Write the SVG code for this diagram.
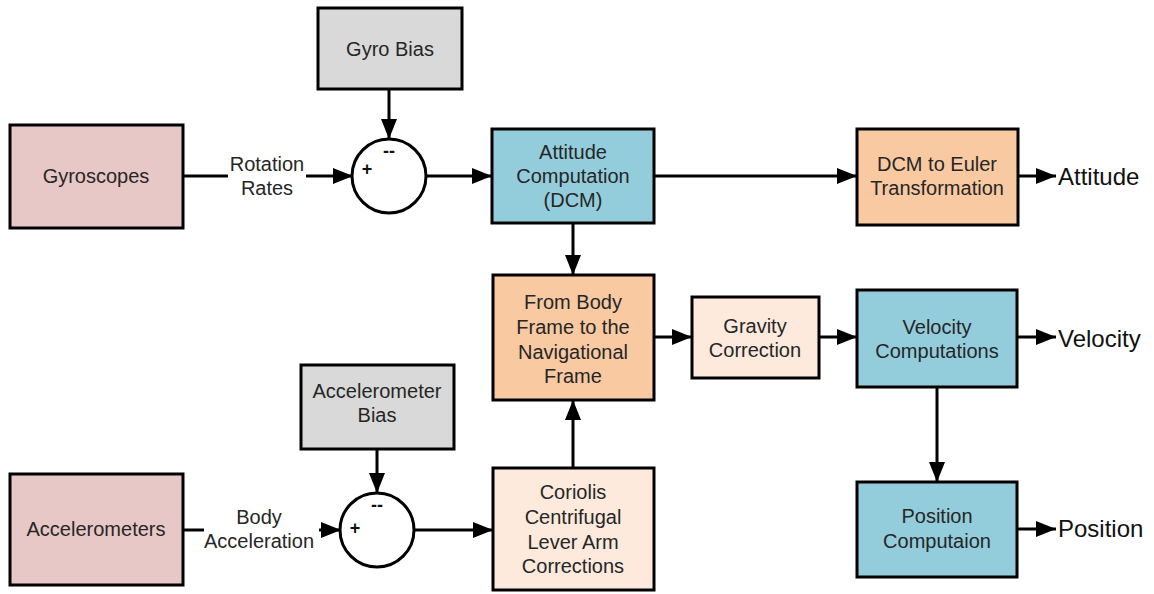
<svg xmlns="http://www.w3.org/2000/svg" width="1154" height="594" viewBox="0 0 1154 594">
  <style>
    .box { stroke: #000; stroke-width: 3; }
    .pink { fill: #e8c8c6; }
    .gray { fill: #d9d9d9; }
    .blue { fill: #93cddb; }
    .orange { fill: #f9c9a2; }
    .cream { fill: #fdeadd; }
    .sum { fill: #fff; stroke: #000; stroke-width: 3; }
    .lbl { font-family: "Liberation Sans", Arial, sans-serif; font-size: 20px; fill: #262626; text-anchor: middle; dominant-baseline: central; }
    .out { font-family: "Liberation Sans", Arial, sans-serif; font-size: 24px; fill: #111; dominant-baseline: central; }
    .sign { font-family: "Liberation Sans", Arial, sans-serif; font-size: 18px; font-weight: bold; fill: #111; text-anchor: middle; dominant-baseline: central; }
    .wire { stroke: #000; stroke-width: 3; fill: none; }
    .arr { marker-end: url(#head); }
  </style>
  <defs>
    <marker id="head" markerUnits="userSpaceOnUse" markerWidth="22" markerHeight="18" refX="20" refY="8" orient="auto">
      <path d="M0,0 L20,8 L0,16 Z" fill="#000"/>
    </marker>
  </defs>
  <rect width="1154" height="594" fill="#fff"/>

  <g id="connectors">
    <!-- gyro path -->
    <path class="wire" d="M183,176 H228"/>
    <path class="wire arr" d="M306,176 H353"/>
    <path class="wire arr" d="M389,89 V139"/>
    <path class="wire arr" d="M426,176 H492"/>
    <path class="wire arr" d="M654,176 H857"/>
    <path class="wire arr" d="M1018,176 H1056"/>
    <path class="wire arr" d="M573,223 V275"/>
    <!-- accelerometer path -->
    <path class="wire" d="M183,530 H204"/>
    <path class="wire arr" d="M319,530 H341"/>
    <path class="wire arr" d="M377,449 V493"/>
    <path class="wire arr" d="M414,530 H493"/>
    <path class="wire arr" d="M573,468 V400"/>
    <!-- navigation chain -->
    <path class="wire arr" d="M654,337 H692"/>
    <path class="wire arr" d="M819,337 H857"/>
    <path class="wire arr" d="M1017,337 H1056"/>
    <path class="wire arr" d="M937,387 V482"/>
    <path class="wire arr" d="M1013,529 H1056"/>
  </g>

  <g id="gyroscopes">
    <rect class="box pink" x="10" y="125" width="173" height="103"/>
    <text class="lbl" x="96" y="176">Gyroscopes</text>
  </g>
  <g id="rotation-rates">
    <text class="lbl" x="267" y="164">Rotation</text>
    <text class="lbl" x="267" y="188">Rates</text>
  </g>
  <g id="gyro-bias">
    <rect class="box gray" x="318" y="8" width="144" height="81"/>
    <text class="lbl" x="390" y="49">Gyro Bias</text>
  </g>
  <g id="gyro-sum">
    <circle class="sum" cx="389" cy="176" r="37"/>
    <text class="sign" x="389" y="151">--</text>
    <text class="sign" x="367" y="169">+</text>
  </g>
  <g id="attitude-computation">
    <rect class="box blue" x="492" y="129" width="162" height="94"/>
    <text class="lbl" x="573" y="152">Attitude</text>
    <text class="lbl" x="573" y="176">Computation</text>
    <text class="lbl" x="573" y="200">(DCM)</text>
  </g>
  <g id="dcm-to-euler">
    <rect class="box orange" x="857" y="129" width="161" height="96"/>
    <text class="lbl" x="937" y="164">DCM to Euler</text>
    <text class="lbl" x="937" y="188">Transformation</text>
  </g>
  <g id="attitude-out">
    <text class="out" x="1058" y="176">Attitude</text>
  </g>
  <g id="body-to-nav">
    <rect class="box orange" x="493" y="275" width="161" height="125"/>
    <text class="lbl" x="573" y="302">From Body</text>
    <text class="lbl" x="573" y="327">Frame to the</text>
    <text class="lbl" x="573" y="352">Navigational</text>
    <text class="lbl" x="573" y="376">Frame</text>
  </g>
  <g id="gravity-correction">
    <rect class="box cream" x="692" y="297" width="127" height="81"/>
    <text class="lbl" x="755" y="326">Gravity</text>
    <text class="lbl" x="755" y="350">Correction</text>
  </g>
  <g id="velocity-computations">
    <rect class="box blue" x="857" y="290" width="160" height="97"/>
    <text class="lbl" x="937" y="327">Velocity</text>
    <text class="lbl" x="937" y="351">Computations</text>
  </g>
  <g id="velocity-out">
    <text class="out" x="1058" y="338">Velocity</text>
  </g>
  <g id="position-computation">
    <rect class="box blue" x="857" y="482" width="160" height="95"/>
    <text class="lbl" x="937" y="516">Position</text>
    <text class="lbl" x="937" y="541">Computaion</text>
  </g>
  <g id="position-out">
    <text class="out" x="1058" y="528">Position</text>
  </g>
  <g id="accelerometer-bias">
    <rect class="box gray" x="301" y="365" width="153" height="84"/>
    <text class="lbl" x="377" y="391">Accelerometer</text>
    <text class="lbl" x="377" y="415">Bias</text>
  </g>
  <g id="accel-sum">
    <circle class="sum" cx="377" cy="530" r="37"/>
    <text class="sign" x="377" y="505">--</text>
    <text class="sign" x="355" y="528">+</text>
  </g>
  <g id="coriolis-corrections">
    <rect class="box cream" x="493" y="468" width="161" height="122"/>
    <text class="lbl" x="573" y="492">Coriolis</text>
    <text class="lbl" x="573" y="517">Centrifugal</text>
    <text class="lbl" x="573" y="542">Lever Arm</text>
    <text class="lbl" x="573" y="566">Corrections</text>
  </g>
  <g id="accelerometers">
    <rect class="box pink" x="10" y="474" width="173" height="111"/>
    <text class="lbl" x="96" y="529">Accelerometers</text>
  </g>
  <g id="body-acceleration">
    <text class="lbl" x="259" y="517">Body</text>
    <text class="lbl" x="259" y="541">Acceleration</text>
  </g>
</svg>
